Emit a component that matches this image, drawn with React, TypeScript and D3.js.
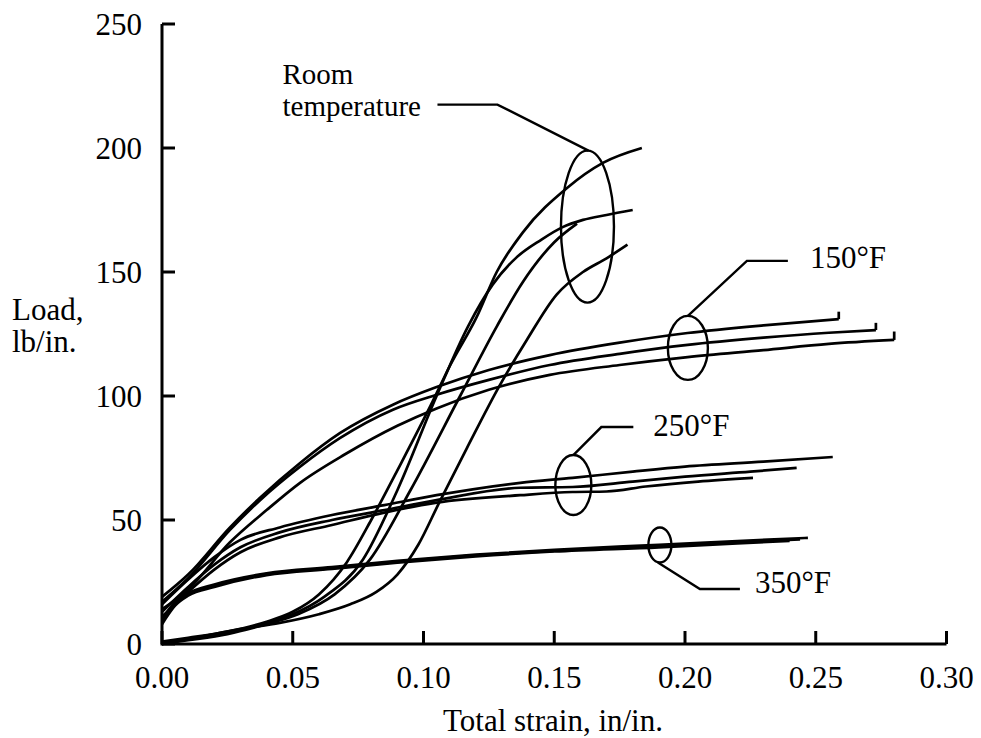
import React from "react";
import * as d3 from "d3";

type Pt = [number, number];

// strain (in/in.) vs load (lb/in.)
const roomTemp: Pt[][] = [
  [[0, 1], [0.01, 2.5], [0.025, 5], [0.04, 9], [0.05, 13], [0.06, 20], [0.0707, 33], [0.08, 50], [0.09, 70], [0.1036, 98], [0.11, 112], [0.1204, 132], [0.128, 150], [0.138, 166], [0.155, 184], [0.1686, 194], [0.1835, 200]],
  [[0, 0.5], [0.01, 2], [0.025, 4.5], [0.04, 8.5], [0.05, 12], [0.062, 19], [0.0768, 34], [0.09, 62], [0.105, 100], [0.117, 128], [0.1265, 145], [0.1357, 156], [0.145, 163], [0.153, 168], [0.161, 171], [0.17, 173], [0.18, 175]],
  [[0, 0], [0.01, 1.5], [0.025, 4], [0.04, 8], [0.052, 12], [0.066, 20], [0.0795, 34], [0.095, 62], [0.114, 100], [0.128, 128], [0.138, 146], [0.15, 162], [0.1587, 169.5]],
  [[0, 0], [0.015, 3], [0.03, 6], [0.045, 8.5], [0.06, 12], [0.072, 16], [0.082, 21], [0.09, 28], [0.098, 40], [0.106, 57], [0.1166, 79], [0.129, 104], [0.1395, 122.6], [0.151, 141], [0.161, 150], [0.17, 155.5], [0.178, 161]],
];

const temp150: Pt[][] = [
  [[0, 19], [0.01, 28], [0.026, 47], [0.0375, 59], [0.0528, 73], [0.068, 85], [0.0883, 96.5], [0.105, 103.6], [0.125, 110.5], [0.1483, 116.5], [0.175, 121.5], [0.201, 125.4], [0.23, 128.5], [0.2588, 131]],
  [[0, 17], [0.01, 26.5], [0.026, 46], [0.0375, 58], [0.0528, 71.5], [0.068, 83], [0.0883, 94.5], [0.105, 100.5], [0.125, 106.5], [0.1483, 112.5], [0.175, 117], [0.201, 120.6], [0.23, 123.5], [0.255, 125.5], [0.273, 126.6]],
  [[0, 14], [0.01, 22], [0.026, 41], [0.04, 54], [0.0528, 65], [0.07, 76.5], [0.09, 88], [0.105, 95], [0.125, 102.5], [0.1483, 108.5], [0.175, 112.5], [0.201, 115.7], [0.23, 118.5], [0.255, 121], [0.28, 122.6]],
];
// load at top of the small vertical mark at each 150°F curve end
const temp150EndTop = [134, 129.5, 126];

const temp250: Pt[][] = [
  [[0, 16], [0.01, 26], [0.02, 35], [0.03, 42], [0.045, 47], [0.065, 52], [0.085, 56], [0.105, 60], [0.137, 65], [0.157, 67], [0.18, 69.5], [0.2, 71.5], [0.23, 73.5], [0.2565, 75.4]],
  [[0, 13], [0.01, 23], [0.02, 32], [0.03, 39], [0.045, 45], [0.065, 50], [0.085, 54], [0.105, 58], [0.137, 63], [0.157, 63.3], [0.18, 65.5], [0.2, 67.5], [0.225, 69.5], [0.2427, 71]],
  [[0, 11], [0.01, 21], [0.02, 30], [0.03, 37], [0.045, 43], [0.065, 48], [0.085, 53], [0.105, 57], [0.137, 60], [0.157, 61.3], [0.17, 61.5], [0.185, 63.5], [0.205, 65.5], [0.226, 67]],
];

const temp350: Pt[][] = [
  [[0, 10], [0.005, 17], [0.01, 20.5], [0.02, 24], [0.04, 28.5], [0.065, 31], [0.09, 33.5], [0.12, 36], [0.15, 38], [0.19, 40], [0.22, 41.5], [0.247, 42.8]],
  [[0, 8], [0.005, 15.5], [0.01, 19.5], [0.02, 23], [0.04, 27.8], [0.065, 30.3], [0.09, 32.8], [0.12, 35.3], [0.15, 37.3], [0.19, 39], [0.22, 40.6], [0.24, 41.6]],
  [[0, 9], [0.005, 16], [0.01, 20], [0.02, 23.5], [0.04, 28.2], [0.065, 30.6], [0.09, 33.1], [0.12, 35.7], [0.15, 37.6], [0.19, 39.6], [0.22, 41], [0.244, 42.2]],
];

const xTicks = [0, 0.05, 0.1, 0.15, 0.2, 0.25, 0.3];
const yTicks = [0, 50, 100, 150, 200, 250];

// callouts: ellipse centre in data units, radii and leader path in px offsets
type Callout = { lines: string[]; cx: number; cy: number; rx: number; ry: number; leader: Pt[]; text: Pt };
const callouts: Callout[] = [
  { lines: ["Room", "temperature"], cx: 0.1627, cy: 168.3, rx: 26.5, ry: 76, leader: [[1, -76], [-90, -122], [-150, -122]], text: [-305, -143] },
  { lines: ["150°F"], cx: 0.2011, cy: 119.4, rx: 20, ry: 32, leader: [[0, -32], [59, -87], [100, -87]], text: [122, -80] },
  { lines: ["250°F"], cx: 0.1573, cy: 64.1, rx: 18, ry: 30, leader: [[0, -30], [28, -58], [60, -58]], text: [80, -49] },
  { lines: ["350°F"], cx: 0.1904, cy: 39.9, rx: 11.5, ry: 17.5, leader: [[-2, 17.5], [40, 44], [80, 44]], text: [95, 48] },
];

const W = 981;
const H = 738;
const font = "'Liberation Serif', 'Times New Roman', serif";
const fs = 31;

export default function App() {
  const x = d3.scaleLinear().domain([0, 0.3]).range([162, 946.5]);
  const y = d3.scaleLinear().domain([0, 250]).range([644, 24]);
  const line = d3
    .line<Pt>()
    .x((d) => x(d[0]))
    .y((d) => y(d[1]))
    .curve(d3.curveMonotoneX);

  const all = [...roomTemp, ...temp150, ...temp250, ...temp350];

  return (
    <div style={{ position: "absolute", left: 0, top: 0 }}>
      <svg width={W} height={H} style={{ display: "block", background: "#fff" }}>
        {/* curves */}
        <g fill="none" stroke="#000" strokeWidth={2.7} strokeLinejoin="round">
          {all.map((c, i) => (
            <path key={i} d={line(c) || ""} />
          ))}
          {temp150.map((c, i) => {
            const last = c[c.length - 1];
            return (
              <line
                key={`e${i}`}
                x1={x(last[0])}
                x2={x(last[0])}
                y1={y(last[1])}
                y2={y(temp150EndTop[i])}
              />
            );
          })}
        </g>

        {/* axes */}
        <g stroke="#000" strokeWidth={3} fill="none">
          <line x1={x(0)} x2={x(0)} y1={y(0) + 1.5} y2={y(250)} />
          <line x1={x(0)} x2={x(0.3)} y1={y(0)} y2={y(0)} />
          {yTicks.map((t) => (
            <line key={t} x1={x(0)} x2={x(0) + 13} y1={y(t)} y2={y(t)} />
          ))}
          {xTicks.map((t) => (
            <line key={t} x1={x(t)} x2={x(t)} y1={y(0)} y2={y(0) - 13} />
          ))}
        </g>

        <g fontFamily={font} fontSize={fs} fill="#000">
          {yTicks.map((t) => (
            <text key={t} x={x(0) - 20} y={y(t) + 11} textAnchor="end">
              {t}
            </text>
          ))}
          {xTicks.map((t) => (
            <text key={t} x={x(t)} y={y(0) + 44} textAnchor="middle">
              {t.toFixed(2)}
            </text>
          ))}
          <text x={12} y={320}>Load,</text>
          <text x={12} y={352}>lb/in.</text>
          <text x={553} y={731} textAnchor="middle">
            Total strain, in/in.
          </text>
        </g>

        {/* callouts */}
        {callouts.map((c, i) => {
          const cx = x(c.cx);
          const cy = y(c.cy);
          const pts = c.leader.map(([dx, dy]) => [cx + dx, cy + dy] as [number, number]);
          const multi = c.lines.length > 1;
          return (
            <g key={i}>
              <ellipse cx={cx} cy={cy} rx={c.rx} ry={c.ry} fill="none" stroke="#000" strokeWidth={2.4} />
              <path d={d3.line()(pts) || ""} fill="none" stroke="#000" strokeWidth={2.4} />
              {c.lines.map((l, j) => (
                <text
                  key={j}
                  x={cx + c.text[0]}
                  y={cy + c.text[1] + j * 32}
                  fontFamily={font}
                  fontSize={multi ? 29 : fs}
                  fill="#000"
                >
                  {l}
                </text>
              ))}
            </g>
          );
        })}
      </svg>
    </div>
  );
}
